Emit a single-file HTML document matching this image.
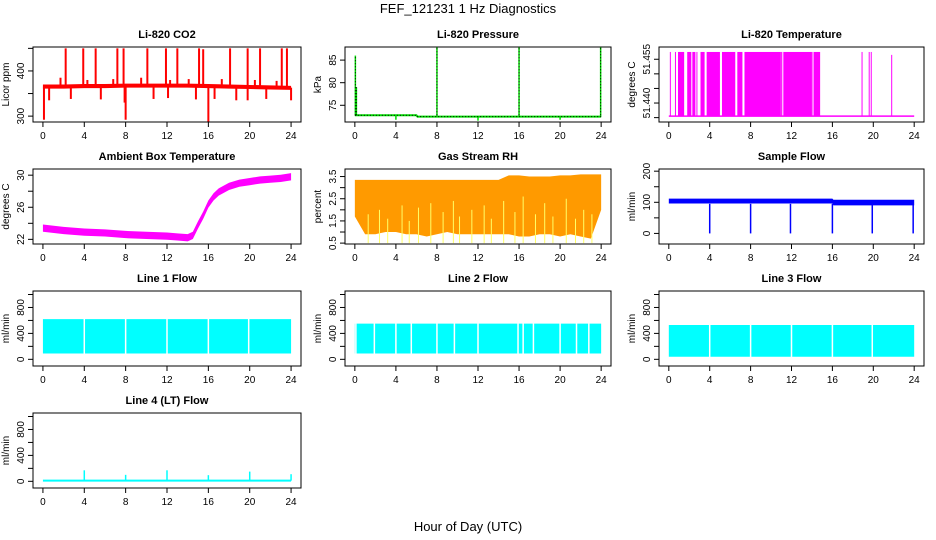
<!DOCTYPE html>
<html><head><meta charset="utf-8">
<style>
body{margin:0;background:#fff;}
svg{display:block;font-family:"Liberation Sans",Arial,sans-serif;}
.tk{font-size:10px;fill:#000;}
.ttl{font-size:11px;font-weight:bold;fill:#000;}
</style></head>
<body>
<svg id="c" width="936" height="540" viewBox="0 0 936 540" xmlns="http://www.w3.org/2000/svg">
<text x="468" y="13" text-anchor="middle" font-size="13">FEF_121231  1 Hz Diagnostics</text>
<text x="468" y="531" text-anchor="middle" font-size="13">Hour of Day (UTC)</text>
</svg>
<script>
// ---- data ----
const xTicks=[0,4,8,12,16,20,24];
const co2BandT=[0,2,4,6,8,10,12,14,16,18,20,22,24];
const co2Upper=[370,370,371,371,372,372,372,372,371,370,369,368,367];
const co2Lower=[361,361,362,362,363,363,363,363,362,361,360,359,358];
const co2SpikeT=[2.2,3.9,5.1,7.2,7.8,10.1,11.9,13.0,15.1,15.5,18.1,19.8,21.0,23.1,23.6,1.7,4.3,6.8,9.5,12.3,14.1,17.3,20.5,22.6,0.1,8.0,16.0,0.6,2.7,5.6,7.9,10.7,12.1,14.8,16.6,18.7,19.8,21.6,24.0];
const co2SpikeV=[450,450,450,450,450,450,450,450,450,448,450,450,450,450,450,385,380,382,385,380,382,382,380,378,292,292,288,335,338,337,330,338,340,337,338,335,335,338,335];
const presT=[0,0.1,6,6.1,24];
const presV=[72.8,72.8,72.8,72.5,72.5];
const presSpikeT=[0.05,0.15,8.0,16.0,23.95,4.0,12.0,20.0];
const presSpikeV=[86,79,88,88,88,71.8,71.6,71.8];
const tempBlocks=[[0.9,1.5],[1.8,2.2],[2.3,2.6],[3.1,3.5],[3.7,5.0],[5.2,6.5],[6.7,7.2],[7.4,10.9],[11.2,14.0],[14.2,14.8]];
const tempLineT=[0.15,0.65,2.75,10.95,11.05,14.1,18.9,19.6,19.8,21.8];
const tempLineV=[51.4575,51.4575,51.4575,51.4575,51.4575,51.4575,51.4575,51.4575,51.4575,51.4565];
const tempLow=51.4355, tempHigh=51.4575;
const ambT=[0,2,4,6,8,10,12,13,14,14.5,15,15.5,16,16.5,17,18,19,20,21,22,23,24];
const ambMid=[23.4,23.1,22.9,22.8,22.6,22.5,22.4,22.3,22.2,22.5,23.8,25.0,26.4,27.3,27.9,28.6,29.0,29.2,29.4,29.5,29.6,29.8];
const ambHalf=0.45;
const rhT=[0,1,2,3,4,5,6,7,8,9,10,11,12,13,14,15,16,17,18,19,20,21,22,23,24];
const rhUpper=[3.35,3.35,3.35,3.35,3.35,3.35,3.35,3.35,3.35,3.35,3.35,3.35,3.35,3.35,3.35,3.55,3.55,3.5,3.5,3.5,3.55,3.55,3.6,3.6,3.6];
const rhLower=[1.7,0.9,0.9,1.0,1.0,0.9,0.9,0.8,0.9,1.0,0.9,0.9,0.9,0.9,0.9,0.9,0.8,0.8,0.9,0.9,0.8,0.9,0.8,0.7,2.0];
const rhGapT=[1.3,2.4,3.2,4.6,5.3,6.2,7.4,8.6,9.6,10.2,11.4,12.6,13.3,14.5,15.6,16.4,17.6,18.5,19.3,20.6,21.5,22.3,23.1];
const rhGapV=[1.8,2.0,1.6,2.2,1.5,2.1,2.3,1.9,2.4,1.7,2.0,2.2,1.6,2.4,1.9,2.6,1.8,2.3,1.7,2.5,1.6,2.0,1.8];
const sfT=[0,16,16.1,24];
const sfUpper=[112,112,108,108];
const sfLower=[96,96,90,90];
const sfDropT=[4.0,8.0,11.9,16.0,19.9,23.9];
const sfDropV=[0,0,0,0,0,0];
const l1Upper=620, l1Lower=90, l1Gaps=[4.0,8.0,12.0,16.0,19.9];
const l2Upper=550, l2Lower=90, l2Gaps=[0.1,1.9,4.0,5.5,8.0,9.7,12.0,15.9,16.4,17.4,20.0,21.6,22.8];
const l3Upper=530, l3Lower=40, l3Gaps=[4.0,8.0,12.0,16.0,19.9];
const l4SpikeT=[4.0,8.0,12.0,16.0,20.0,24.0];
const l4SpikeV=[170,100,170,95,150,110];
const l4Base=10;
// ---- layout ----
const NS="http://www.w3.org/2000/svg";
const svg=document.getElementById('c');
const cols=[[33,301],[345,611],[659,924]];
function mk(tag,attrs,parent){const e=document.createElementNS(NS,tag);for(const k in attrs)e.setAttribute(k,attrs[k]);(parent||svg).appendChild(e);return e;}
function panel(r,c,title,ylab,ymin,ymax,yticks,ylabels,name){
  const p={x0:cols[c][0],x1:cols[c][1],y0:47+122*r,y1:122+122*r,ymin,ymax};
  p.sx=t=>p.x0+(t+0.96)/25.92*(p.x1-p.x0);
  p.sy=v=>p.y1-(v-ymin)/(ymax-ymin)*(p.y1-p.y0);
  const g=mk('g',{});
  
  
  p.g=g;
  p.plot=mk('g',{},g);
  
  
  const t=mk('text',{x:(p.x0+p.x1)/2,y:p.y0-9,'text-anchor':'middle',class:'ttl'},g);t.textContent=title;
  
  
  p.finish=()=>{
    const b=mk('rect',{x:p.x0,y:p.y0,width:p.x1-p.x0,height:p.y1-p.y0,fill:'none',stroke:'#000','stroke-width':1},g);
    
    
    const xa=mk('g',{},g);
    
    
    mk('line',{x1:p.sx(0),x2:p.sx(24),y1:p.y1,y2:p.y1,stroke:'#000'},xa);
    xTicks.forEach(v=>{const x=p.sx(v);mk('line',{x1:x,x2:x,y1:p.y1,y2:p.y1+5,stroke:'#000'},xa);
      const tx=mk('text',{x:x,y:p.y1+17,'text-anchor':'middle',class:'tk'},xa);tx.textContent=v;});
    const ya=mk('g',{},g);
    
    
    mk('line',{x1:p.x0,x2:p.x0,y1:p.sy(yticks[0]),y2:p.sy(yticks[yticks.length-1]),stroke:'#000'},ya);
    yticks.forEach(v=>{const y=p.sy(v);mk('line',{x1:p.x0,x2:p.x0-5,y1:y,y2:y,stroke:'#000'},ya);});
    ylabels.forEach(v=>{const y=p.sy(v);const tx=mk('text',{x:p.x0-9,y:y,'text-anchor':'middle',class:'tk',transform:`rotate(-90 ${p.x0-9} ${y})`},ya);tx.textContent=v;});
    const yt=mk('text',{x:p.x0-24,y:(p.y0+p.y1)/2,'text-anchor':'middle',class:'tk',transform:`rotate(-90 ${p.x0-24} ${(p.y0+p.y1)/2})`},g);yt.textContent=ylab;
    
    
  };
  return p;
}
function band(p,T,U,L,fill){
  let pts=T.map((t,i)=>p.sx(t)+','+p.sy(U[i]));
  for(let i=T.length-1;i>=0;i--)pts.push(p.sx(T[i])+','+p.sy(L[i]));
  const e=mk('polygon',{points:pts.join(' '),fill:fill},p.plot);
  
  
}
function vline(p,t,v1,v2,col,w){
  const e=mk('line',{x1:p.sx(t),x2:p.sx(t),y1:p.sy(v1),y2:p.sy(v2),stroke:col,'stroke-width':w||1.5},p.plot);
  
  
}
function interp(T,V,t){for(let i=1;i<T.length;i++)if(t<=T[i]){const f=(t-T[i-1])/(T[i]-T[i-1]);return V[i-1]+f*(V[i]-V[i-1]);}return V[V.length-1];}

// CO2
let p=panel(0,0,'Li-820 CO2','Licor ppm',287,453,[300,350,400,450],[300,400],'co2');
band(p,co2BandT,co2Upper,co2Lower,'#ff0000');
co2SpikeT.forEach((t,i)=>vline(p,t,interp(co2BandT,co2Upper,t)-4,co2SpikeV[i],'#ff0000',2));
p.finish();
// Pressure
p=panel(0,1,'Li-820 Pressure','kPa',71.3,87.9,[75,80,85],[75,80,85],'pressure');
presSpikeT.forEach((t,i)=>vline(p,t,interp(presT,presV,t),presSpikeV[i],'#00dd00',1.5));
{const pl=mk('polyline',{points:presT.map((t,i)=>p.sx(t)+','+p.sy(presV[i])).join(' '),fill:'none',stroke:'#00dd00','stroke-width':2},p.plot);


const pd=mk('polyline',{points:presT.map((t,i)=>p.sx(t)+','+p.sy(presV[i])).join(' '),fill:'none',stroke:'#000','stroke-width':1,'stroke-dasharray':'1,2'},p.plot);

}
presSpikeT.slice(0,5).forEach((t,i)=>{const e=mk('line',{x1:p.sx(t),x2:p.sx(t),y1:p.sy(presV[0]),y2:p.sy(presSpikeV[i]),stroke:'#000','stroke-width':1,'stroke-dasharray':'1,2'},p.plot);

});
p.finish();
// Temperature
p=panel(0,2,'Li-820 Temperature','degrees C',51.4335,51.4592,[51.435,51.440,51.445,51.450,51.455],['51.440','51.455'],'licor-temp');
{const e=mk('line',{x1:p.sx(0),x2:p.sx(24),y1:p.sy(tempLow),y2:p.sy(tempLow),stroke:'#ff00ff','stroke-width':1.5},p.plot);

}
tempBlocks.forEach(b=>{const e=mk('rect',{x:p.sx(b[0]),y:p.sy(tempHigh),width:p.sx(b[1])-p.sx(b[0]),height:p.sy(tempLow)-p.sy(tempHigh),fill:'#ff00ff'},p.plot);

});
tempLineT.forEach((t,i)=>vline(p,t,tempLow,tempLineV[i],'#ff00ff',1));
p.finish();
// Ambient
p=panel(1,0,'Ambient Box Temperature','degrees C',21.42,30.77,[22,24,26,28,30],[22,26,30],'ambient');
band(p,ambT,ambMid.map(v=>v+ambHalf),ambMid.map(v=>v-ambHalf),'#ff00ff');
p.finish();
// RH
p=panel(1,1,'Gas Stream RH','percent',0.46,3.84,[0.5,1,1.5,2,2.5,3,3.5],['0.5','1.5','2.5','3.5'],'rh');
band(p,rhT,rhUpper,rhLower,'#ff9a00');
rhGapT.forEach((t,i)=>vline(p,t,0.5,rhGapV[i],'#ffff66',1));
p.finish();
// Sample flow
p=panel(1,2,'Sample Flow','ml/min',-34,207,[0,50,100,150,200],[0,100,200],'sample-flow');
band(p,sfT,sfUpper,sfLower,'#0000ff');
sfDropT.forEach((t,i)=>vline(p,t,95,sfDropV[i],'#0000ff',1.5));
p.finish();
// Line flows
function flowPanel(r,c,title,name,up,lo,gaps){
  const q=panel(r,c,title,'ml/min',-103,1054,[0,200,400,600,800,1000],[0,400,800],name);
  band(q,[0,24],[up,up],[lo,lo],'#00ffff');
  gaps.forEach(t=>vline(q,t,lo-10,up+10,'#ffffff',1.5));
  q.finish();
}
flowPanel(2,0,'Line 1 Flow','line1-flow',l1Upper,l1Lower,l1Gaps);
flowPanel(2,1,'Line 2 Flow','line2-flow',l2Upper,l2Lower,l2Gaps);
flowPanel(2,2,'Line 3 Flow','line3-flow',l3Upper,l3Lower,l3Gaps);
// Line 4
p=panel(3,0,'Line 4 (LT) Flow','ml/min',-103,1054,[0,200,400,600,800,1000],[0,400,800],'line4-flow');
{const e=mk('line',{x1:p.sx(0),x2:p.sx(24),y1:p.sy(l4Base),y2:p.sy(l4Base),stroke:'#00ffff','stroke-width':2},p.plot);

}
l4SpikeT.forEach((t,i)=>vline(p,t,l4Base,l4SpikeV[i],'#00ffff',1.5));
p.finish();
</script>
</body></html>
